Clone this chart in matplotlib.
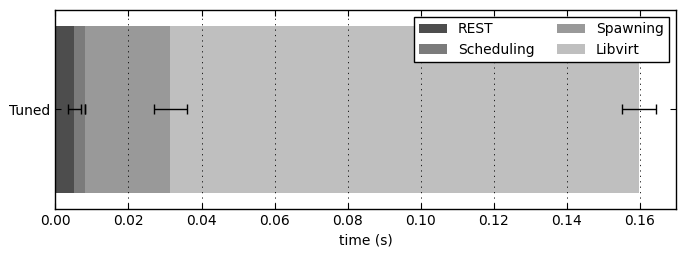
import numpy as np
import matplotlib
matplotlib.use("Agg")
import matplotlib.pyplot as plt

# phases of the "Tuned" run, stacked bar widths in seconds
phases = ["REST", "Scheduling", "Spawning", "Libvirt"]
durations = [0.0052, 0.0029, 0.0233, 0.1284]
errors = [0.0018, 0.00005, 0.0045, 0.0047]
colors = ["#4d4d4d", "#7b7b7b", "#999999", "#bfbfbf"]
row_labels = ["Tuned"]

plt.rcParams["font.family"] = "DejaVu Sans"
plt.rcParams["font.size"] = 10

fig, ax = plt.subplots(figsize=(6.85, 2.6), dpi=100)
fig.subplots_adjust(left=0.081, right=0.987, top=0.962, bottom=0.197)

left = 0.0
for name, d, e, c in zip(phases, durations, errors, colors):
    ax.barh(0, d, left=left, height=0.84, color=c, edgecolor="none",
            label=name, zorder=1)
    left += d
    ax.errorbar(left, 0, xerr=e, fmt="none", ecolor="black", elinewidth=1,
                capsize=3.5, capthick=1, zorder=4)

ax.set_xlim(0, 0.17)
ax.set_ylim(-0.5, 0.5)
ax.set_yticks([0])
ax.set_yticklabels(row_labels)
ax.set_xlabel("time (s)")
ax.set_xticks(np.arange(0, 0.161, 0.02))

ax.xaxis.grid(True, linestyle=(0, (1.5, 5)), color="black", linewidth=0.6,
              zorder=3)
ax.set_axisbelow(False)
ax.tick_params(direction="in", top=True, right=True, length=4, width=0.8)
for s in ax.spines.values():
    s.set_linewidth(1.0)
    s.set_zorder(5)

leg = ax.legend(loc="upper right", ncol=2, fancybox=False, framealpha=1,
                edgecolor="black", handlelength=2.0, columnspacing=1.6,
                borderaxespad=0.5, handletextpad=0.8, labelspacing=0.45)
leg.get_frame().set_linewidth(1.0)

fig.savefig("out.png", dpi=100)
